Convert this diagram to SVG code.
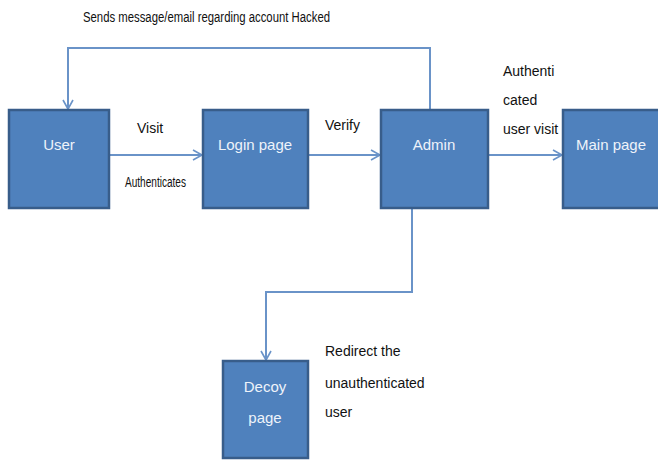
<svg xmlns="http://www.w3.org/2000/svg" width="658" height="461" viewBox="0 0 658 461">
<style>
.box{fill:#4f81bd;stroke:#385d8a;stroke-width:2.5}
.bt{fill:#eef3fa;font-family:"Liberation Sans",Arial,sans-serif;font-size:15px;text-anchor:middle}
.lb{fill:#111;font-family:"Liberation Sans",Arial,sans-serif;font-size:14px}
.con{fill:none;stroke:#6a93c8;stroke-width:2}
</style>
<defs>
<marker id="ah" markerWidth="12" markerHeight="12" refX="10" refY="6" orient="auto" markerUnits="userSpaceOnUse">
<path d="M1,1 L10,6 L1,11" fill="none" stroke="#6a93c8" stroke-width="1.6"/>
</marker>
</defs>
<rect width="658" height="461" fill="#ffffff"/>
<g id="connectors">
<path class="con" d="M430,110 V48 H68 V109" marker-end="url(#ah)"/>
<path class="con" d="M109,155 H202" marker-end="url(#ah)"/>
<path class="con" d="M308,155 H380" marker-end="url(#ah)"/>
<path class="con" d="M488,155 H562" marker-end="url(#ah)"/>
<path class="con" d="M412,209 V292 H266 V360" marker-end="url(#ah)"/>
</g>
<g id="user"><rect class="box" x="9" y="110" width="100" height="98"/><text class="bt" x="59" y="150">User</text></g>
<g id="login"><rect class="box" x="203" y="110" width="105" height="98"/><text class="bt" x="255" y="150">Login page</text></g>
<g id="admin"><rect class="box" x="381" y="110" width="107" height="98"/><text class="bt" x="434" y="150">Admin</text></g>
<g id="main"><rect class="box" x="563" y="110" width="100" height="98"/><text class="bt" x="611" y="150">Main page</text></g>
<g id="decoy"><rect class="box" x="223" y="361" width="85" height="97"/><text class="bt" x="265" y="392">Decoy</text><text class="bt" x="265" y="423">page</text></g>
<g id="labels">
<text class="lb" x="83" y="22" textLength="247" lengthAdjust="spacingAndGlyphs">Sends message/email  regarding account Hacked</text>
<text class="lb" x="137" y="133" font-size="15">Visit</text>
<text class="lb" x="125" y="187" font-size="11" textLength="61" lengthAdjust="spacingAndGlyphs">Authenticates</text>
<text class="lb" x="325" y="130" font-size="15">Verify</text>
<text class="lb" x="503" y="76">Authenti</text>
<text class="lb" x="503" y="105">cated</text>
<text class="lb" x="503" y="134">user visit</text>
<text class="lb" x="325" y="356">Redirect the</text>
<text class="lb" x="325" y="388">unauthenticated</text>
<text class="lb" x="325" y="417">user</text>
</g>
</svg>
